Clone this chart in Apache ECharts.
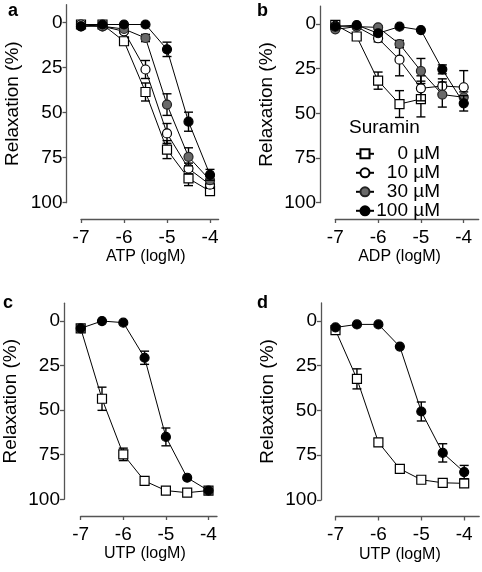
<!DOCTYPE html>
<html><head><meta charset="utf-8">
<script src="https://cdn.jsdelivr.net/npm/echarts@6/dist/echarts.min.js"></script>
<style>html,body{margin:0;padding:0;background:#fff}#c{width:482px;height:572px}</style>
</head><body><div id="c"></div>
<script>
// ---------------- data ----------------
const logM = [-7, -6.5, -6, -5.5, -5, -4.5, -4];
const xTicks = [-7, -6, -5, -4];
const yTicks = [0, 25, 50, 75, 100];
const seriesNames = ['0 µM', '10 µM', '30 µM', '100 µM'];
const panelLetters = ['a', 'b', 'c', 'd'];
const xTitles = ['ATP (logM)', 'ADP (logM)', 'UTP (logM)', 'UTP (logM)'];
const yTitle = 'Relaxation (%)';
const legendTitle = 'Suramin';

// panel a: ATP
const atp0 = [1, 1, 10.3, 38.5, 70.5, 86.5, 93.6];
const atp0Err = [0, 0, 2, 5, 5, 4, 2];
const atp10 = [1, 2, 4.8, 26, 61.5, 81, 90];
const atp10Err = [0, 0, 1, 5, 5.5, 3, 2];
const atp30 = [2, 2, 3.5, 8.5, 45.5, 74.5, 87.5];
const atp30Err = [0, 0, 0, 2, 6, 5, 2];
const atp100 = [2, 1, 1, 1, 14.8, 55, 84.5];
const atp100Err = [0, 0, 0, 0, 4, 5.3, 3];

// panel b: ADP
const adp0 = [0.5, 7, 31.7, 44.8, 42];
const adp0Err = [0, 1.5, 4.8, 7.5, 10];
const adp10 = [1, 1.5, 8, 20, 36, 34.7, 35.4];
const adp10Err = [0, 0, 2, 9, 7, 4, 9.3];
const adp30 = [3, 1.5, 1.9, 11.2, 26.3, 39.5, 41];
const adp30Err = [0, 0, 1, 2, 7, 7, 3];
const adp100 = [1.5, 0.6, 5.2, 1.5, 3.4, 25.4, 44.4];
const adp100Err = [0, 0, 1, 0, 0, 2.5, 4.3];

// panel c: UTP
const utpC0 = [4.1, 43.6, 74.8, 89.7, 95.1, 96.3, 95.1];
const utpC0Err = [0, 6.5, 3.5, 0, 0, 0, 0];
const utpC100 = [4.1, 0, 0.9, 20.6, 65, 87.9, 95.1];
const utpC100Err = [0, 0, 0, 3.7, 5, 0, 0];

// panel d: UTP
const utpD0 = [5.2, 32.4, 67.8, 82.6, 88.7, 90.4, 90.7];
const utpD0Err = [2, 5.6, 2, 0, 0, 0, 0];
const utpD100 = [3.7, 2, 2, 14.4, 50.6, 73.7, 84.4];
const utpD100Err = [0, 0, 0, 0, 5.3, 5.1, 3.7];

// ---------------- layout / style ----------------
const FONT = '"Liberation Sans", Arial, Helvetica, sans-serif';
const panels = [
  {grid:{left:81, top:4.7, width:137.6, height:198}, xMax:-3.8, yOff:14.5, xOff:16.3, namePad:8,
   series:[[atp0,atp0Err],[atp10,atp10Err],[atp30,atp30Err],[atp100,atp100Err]], names:[0,1,2,3]},
  {grid:{left:335.3, top:6.1, width:143.4, height:196.6}, xMax:-3.65, yOff:15.3, xOff:16.3, namePad:15,
   series:[[adp0,adp0Err],[adp10,adp10Err],[adp30,adp30Err],[adp100,adp100Err]], names:[0,1,2,3]},
  {grid:{left:80, top:303.2, width:137, height:196.1}, xMax:-3.8, yOff:16.7, xOff:16.7, namePad:8,
   series:[[utpC0,utpC0Err],[utpC100,utpC100Err]], names:[0,3]},
  {grid:{left:335.5, top:302.9, width:143.7, height:197.1}, xMax:-3.65, yOff:14.5, xOff:16.5, namePad:15,
   series:[[utpD0,utpD0Err],[utpD100,utpD100Err]], names:[0,3]}
];
const markerStyle = [
  {symbol:'rect', fill:'#fff', border:'#000'},
  {symbol:'circle', fill:'#fff', border:'#000'},
  {symbol:'circle', fill:'#696969', border:'#222'},
  {symbol:'circle', fill:'#000', border:'#000'}
];
const AX = '#555';

function errRender(params, api) {
  const x = api.value(0), y = api.value(1), e = api.value(2);
  if (!e) return null;
  const a = api.coord([x, y - e]), b = api.coord([x, y + e]);
  const hw = 4.5;
  const st = {stroke:'#000', lineWidth:1.4};
  return {type:'group', children:[
    {type:'line', shape:{x1:a[0], y1:a[1], x2:b[0], y2:b[1]}, style:st},
    {type:'line', shape:{x1:a[0]-hw, y1:a[1], x2:a[0]+hw, y2:a[1]}, style:st},
    {type:'line', shape:{x1:b[0]-hw, y1:b[1], x2:b[0]+hw, y2:b[1]}, style:st}
  ]};
}

const option = {
  animation:false,
  backgroundColor:'#fff',
  textStyle:{fontFamily:FONT},
  grid:[], xAxis:[], yAxis:[], series:[],
  legend:{
    left:350, top:139.3, orient:'vertical', selectedMode:false,
    itemWidth:18, itemHeight:11.3, itemGap:0,
    data:seriesNames,
    formatter:function(n){return '{t|' + n + '}';},
    textStyle:{color:'#000', fontFamily:FONT, fontSize:19, lineHeight:18.3,
      rich:{t:{width:61, align:'right', fontSize:19, fontFamily:FONT, color:'#000', lineHeight:18.3}}}
  },
  graphic:[
    {type:'text', left:349, top:118, style:{text:legendTitle, font:'19px ' + FONT, fill:'#000'}}
  ]
};

const letterPos = [[8,2],[257,2],[3,294],[257,294]];
panels.forEach(function(p, i){
  option.grid.push(Object.assign({containLabel:false}, p.grid));
  option.xAxis.push({
    type:'value', gridIndex:i, min:-7, max:p.xMax, offset:p.xOff,
    name:xTitles[i], nameLocation:'middle', nameGap:30,
    nameTextStyle:{fontSize:16, color:'#000', fontFamily:FONT, padding:[0, p.namePad, 0, 0]},
    axisLine:{show:true, onZero:false, lineStyle:{color:AX, width:1.3}},
    axisTick:{show:true, length:4, customValues:xTicks, lineStyle:{color:AX, width:1.3}},
    axisLabel:{customValues:xTicks, margin:9, fontSize:19, color:'#000', fontFamily:FONT},
    splitLine:{show:false}
  });
  option.yAxis.push({
    type:'value', gridIndex:i, min:-10, max:100, inverse:true, offset:p.yOff,
    name:yTitle, nameLocation:'middle', nameGap:44,
    nameTextStyle:{fontSize:19, color:'#000', fontFamily:FONT},
    axisLine:{show:true, onZero:false, lineStyle:{color:AX, width:1.3}},
    axisTick:{show:true, length:4, customValues:yTicks, lineStyle:{color:AX, width:1.3}},
    axisLabel:{customValues:yTicks, margin:4, fontSize:19, color:'#000', fontFamily:FONT},
    splitLine:{show:false}
  });
  option.graphic.push({type:'text', left:letterPos[i][0], top:letterPos[i][1],
    style:{text:panelLetters[i], font:'bold 18px ' + FONT, fill:'#000'}});
  p.series.forEach(function(s, k){
    const nm = p.names[k];
    const vals = s[0], errs = s[1];
    const pts = vals.map(function(v, j){return [logM[j], v];});
    const epts = vals.map(function(v, j){return [logM[j], v, errs[j]];});
    option.series.push({
      type:'custom', name:seriesNames[nm] + ' err', xAxisIndex:i, yAxisIndex:i,
      renderItem:errRender, data:epts, z:1 + k*2, silent:true
    });
    const ms = markerStyle[nm];
    option.series.push({
      type:'line', name:seriesNames[nm], xAxisIndex:i, yAxisIndex:i, data:pts,
      symbol:ms.symbol, symbolSize:9, showAllSymbol:true, clip:false,
      lineStyle:{color:'#000', width:1},
      itemStyle:{color:ms.fill, borderColor:ms.border, borderWidth:1.2, opacity:1},
      z:2 + k*2
    });
  });
});

const chart = echarts.init(document.getElementById('c'), null, {renderer:'canvas'});
chart.setOption(option);
</script>
</body></html>
